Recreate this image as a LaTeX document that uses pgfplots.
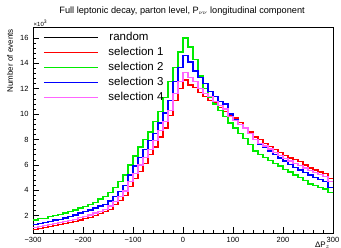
\documentclass[border=0pt]{standalone}
\usepackage{pgfplots}
\pgfplotsset{compat=1.18}
\usepackage{pgfplotstable}
\usepackage{fontspec}
\setmainfont{Liberation Sans}
\setsansfont{Liberation Sans}
\definecolor{cred}{RGB}{255,0,0}
\definecolor{cgreen}{RGB}{0,235,0}
\definecolor{cblue}{RGB}{0,0,255}
\definecolor{cmag}{RGB}{255,100,255}
\pgfplotstableread{
x s1 s2 s3 s4
-300 0.9 1.65 1.3 1.05
-290 0.97 1.75 1.38 1.12
-280 1.05 1.80 1.45 1.2
-270 1.12 1.92 1.55 1.28
-260 1.2 2.0 1.65 1.36
-250 1.28 2.1 1.72 1.45
-240 1.36 2.2 1.82 1.52
-230 1.45 2.35 1.95 1.62
-220 1.55 2.45 2.05 1.72
-210 1.65 2.6 2.2 1.85
-200 1.75 2.7 2.3 1.95
-190 1.85 2.9 2.45 2.05
-180 2.0 3.05 2.6 2.2
-170 2.15 3.3 2.75 2.35
-160 2.3 3.5 2.9 2.5
-150 2.5 3.8 3.15 2.75
-140 2.85 4.2 3.5 3.1
-130 3.2 4.7 3.9 3.5
-120 3.6 5.2 4.4 3.95
-110 4.3 6.0 5.2 4.7
-100 4.9 6.7 5.9 5.3
-90 5.5 7.4 6.6 6.0
-80 6.1 8.0 7.2 6.6
-70 6.8 8.6 7.9 7.2
-60 7.4 9.4 8.5 7.9
-50 8.2 10.2 9.3 8.7
-40 8.9 11.3 10.1 9.4
-30 9.9 12.6 11.1 10.3
-20 11.1 13.7 12.6 11.6
-10 12.0 14.9 13.7 12.6
0 12.7 16.0 14.6 13.3
10 12.3 15.3 14.1 12.9
20 12.1 14.3 13.4 12.6
30 11.7 13.0 12.9 12.0
40 11.4 12.0 12.4 11.6
50 11.1 11.3 11.8 11.4
60 10.9 10.8 11.4 11.0
70 10.5 10.3 11.0 10.7
80 10.2 9.8 10.8 10.4
90 9.9 9.3 10.0 9.8
100 9.7 8.9 9.6 9.5
110 9.35 8.5 9.2 9.2
120 8.9 8.1 8.9 8.9
130 8.6 7.6 8.5 8.5
140 8.2 7.1 8.0 8.0
150 8.0 6.8 7.6 7.7
160 7.7 6.6 7.4 7.5
170 7.45 6.35 7.1 7.25
180 7.2 6.1 6.8 7.0
190 6.95 5.9 6.55 6.75
200 6.75 5.65 6.3 6.5
210 6.55 5.45 6.05 6.3
220 6.4 5.2 5.8 6.1
230 6.25 5.0 5.6 5.95
240 6.0 4.75 5.4 5.75
250 5.75 4.5 5.2 5.55
260 5.6 4.35 5.0 5.4
270 5.45 4.2 4.85 5.25
280 5.3 4.1 4.7 5.1
290 4.9 3.8 4.2 4.7
300 4.9 3.8 4.2 4.7
}\hist
\begin{document}
\begin{tikzpicture}
\begin{axis}[
  scale only axis, width=300pt, height=206pt,
  xmin=-300, xmax=300, ymin=0.63, ymax=16.87,
  clip=false,
  axis line style={line width=0.8pt},
  tick align=inside, xtick pos=bottom, ytick pos=left,
  xtick={-300,-200,...,300},
  xticklabels={−300,−200,−100,0,100,200,300},
  ytick={2,4,...,16},
  yticklabels={2,4,6,8,10,12,14,16},
  minor x tick num=4, minor y tick num=4,
  major tick length=6pt, minor tick length=3pt,
  tick style={black, line width=0.6pt},
  tick label style={font=\fontsize{7.5}{8}\selectfont},
  xticklabel style={yshift=-1pt},
  yticklabel style={xshift=-1pt},
  legend style={at={(axis description cs:0.03,0.99)}, anchor=north west,
    draw=none, fill=none, font=\fontsize{11.5}{12}\selectfont,
    row sep=1.2pt, inner sep=1pt},
  legend cell align=left,
  legend image code/.code={\draw[#1] (0pt,0pt) -- (54pt,0pt);},
  every axis plot/.append style={line width=1.3pt, const plot mark left},
]
\addlegendimage{black, line width=1.3pt}
\addlegendentry{\hspace{9pt}random}
\addplot[cred, mark=none] table[x=x, y=s1] {\hist};
\addlegendentry{\hspace{8pt}selection 1}
\addplot[cgreen, mark=none] table[x=x, y=s2] {\hist};
\addlegendentry{\hspace{8pt}selection 2}
\addplot[cblue, mark=none] table[x=x, y=s3] {\hist};
\addlegendentry{\hspace{8pt}selection 3}
\addplot[cmag, mark=none] table[x=x, y=s4] {\hist};
\addlegendentry{\hspace{8pt}selection 4}
\node[anchor=center, font=\fontsize{9.2}{10}\selectfont] at (rel axis cs:0.497,1.078) {Full leptonic decay, parton level, P$_{\nu\nu}$ longitudinal component};
\node[anchor=south west, font=\fontsize{6}{7}\selectfont, inner sep=0.5pt] at (rel axis cs:0.0,1.0) {×10\textsuperscript{3}};
\node[rotate=90, anchor=east, font=\fontsize{8}{9}\selectfont, inner sep=0pt] at (rel axis cs:-0.077,0.99) {Number of events};
\node[anchor=north, font=\fontsize{8}{9}\selectfont, inner sep=0pt] at (rel axis cs:0.965,-0.045) {ΔP$_{z}$};
\end{axis}
\pgfresetboundingbox
\path[use as bounding box] ([xshift=-33pt,yshift=-15pt]current axis.south west) rectangle ([xshift=8pt,yshift=27pt]current axis.north east);
\end{tikzpicture}
\end{document}
